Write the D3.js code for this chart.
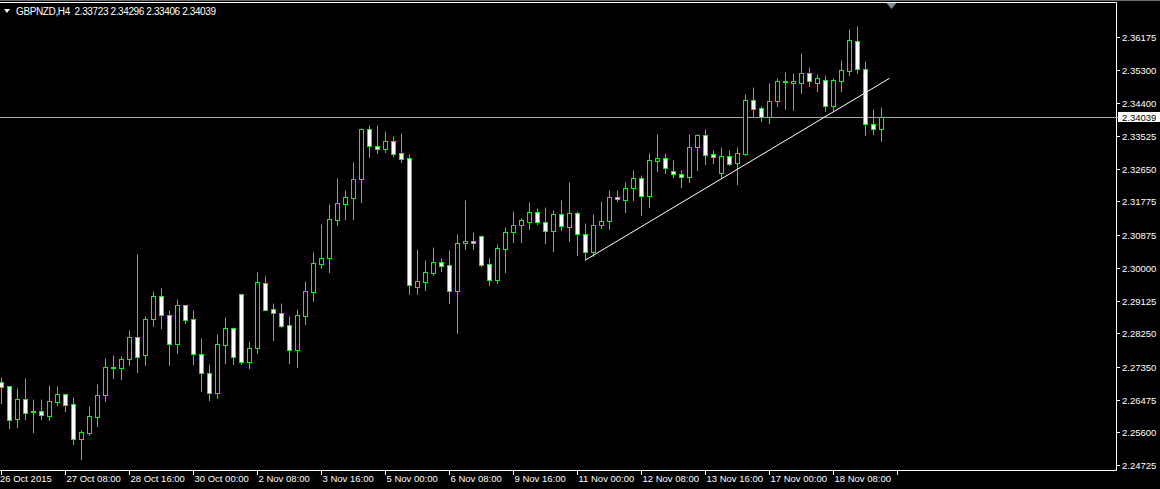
<!DOCTYPE html>
<html><head><meta charset="utf-8">
<script src="https://cdn.jsdelivr.net/npm/d3@7/dist/d3.min.js"></script>
<style>
html,body{margin:0;padding:0;background:#000;overflow:hidden}
svg{display:block}
text{font-family:"Liberation Sans",Arial,sans-serif;fill:#fff;white-space:pre}
</style></head><body>
<svg id="c" width="1160" height="489"></svg>
<script>
const symbol = "GBPNZD,H4";
const opens = [2.26954,2.26839,2.25948,2.26483,2.26170,2.26162,2.26044,2.26419,2.26617,2.26357,
2.25429,2.25589,2.26017,2.26590,2.27320,2.27312,2.27553,2.28141,2.27660,2.28623,
2.29238,2.28730,2.27954,2.28997,2.28623,2.27687,2.27178,2.26659,2.27943,2.28382,
2.29292,2.27489,2.27863,2.29586,2.28890,2.28783,2.28462,2.27810,2.28719,2.29361,
2.30110,2.30271,2.31287,2.31715,2.31876,2.32368,2.33706,2.33259,2.33187,2.33385,
2.33064,2.32930,2.29495,2.29629,2.29870,2.30148,2.30068,2.29372,2.30656,2.30718,
2.30843,2.30094,2.29666,2.30512,2.30950,2.31138,2.31234,2.31485,2.31218,2.30993,
2.31432,2.31100,2.31459,2.30897,2.30415,2.31138,2.31245,2.31887,2.31806,2.32143,
2.32395,2.31929,2.32850,2.32930,2.32582,2.32502,2.32422,2.33224,2.33545,2.33037,
2.32545,2.32983,2.32796,2.33053,2.34482,2.34268,2.34027,2.34455,2.34985,2.34952,
2.34952,2.35204,2.34952,2.35033,2.34321,2.35006,2.35273,2.36060,2.35311,2.33840,
2.33723];
const highs = [2.27087,2.26839,2.26785,2.27053,2.26491,2.26491,2.26865,2.26839,2.26617,2.26544,
2.25661,2.26304,2.26892,2.27588,2.27668,2.27641,2.28337,2.30370,2.28711,2.29380,
2.29460,2.28864,2.29158,2.28997,2.28864,2.28115,2.27419,2.28230,2.28684,2.28417,
2.29292,2.28034,2.29880,2.29773,2.29051,2.29051,2.28711,2.28890,2.29640,2.30423,
2.31172,2.31707,2.32403,2.32082,2.32831,2.33733,2.33821,2.33821,2.33660,2.33527,
2.33607,2.33045,2.30504,2.30209,2.30557,2.30263,2.30477,2.30905,2.31814,2.30958,
2.30843,2.30263,2.30637,2.31092,2.31520,2.31325,2.31761,2.31608,2.31627,2.31547,
2.31814,2.32296,2.31528,2.31199,2.31432,2.31788,2.32082,2.32082,2.32296,2.32617,
2.32483,2.33072,2.33580,2.33064,2.32884,2.32617,2.33580,2.33580,2.33714,2.33152,
2.33224,2.33152,2.33224,2.34650,2.34837,2.34329,2.34944,2.35070,2.35239,2.35212,
2.35747,2.35372,2.35185,2.35150,2.35078,2.35560,2.36389,2.36477,2.35533,2.34249,
2.34296];
const lows = [2.26392,2.25723,2.25750,2.25964,2.25616,2.25956,2.25929,2.26330,2.26170,2.25287,
2.24894,2.25528,2.25768,2.26437,2.27061,2.27026,2.27400,2.27221,2.27400,2.28444,
2.28398,2.27400,2.27729,2.28532,2.27427,2.26713,2.26464,2.26526,2.27462,2.27435,
2.27435,2.27328,2.27729,2.28880,2.28069,2.28425,2.27462,2.27355,2.28497,2.29120,
2.29995,2.29888,2.31146,2.31306,2.31306,2.31769,2.32973,2.33080,2.33099,2.33000,
2.32839,2.29308,2.29308,2.29407,2.29816,2.29923,2.29067,2.28248,2.30495,2.30495,
2.30057,2.29532,2.29602,2.29896,2.30699,2.30699,2.31047,2.31172,2.30672,2.30458,
2.31020,2.30726,2.30351,2.30209,2.30324,2.31073,2.31047,2.31788,2.31501,2.31814,
2.31421,2.31635,2.32598,2.32545,2.32438,2.32170,2.32304,2.32617,2.32778,2.32812,
2.32395,2.32759,2.32242,2.33018,2.34027,2.33936,2.33874,2.34329,2.34249,2.34230,
2.34685,2.34872,2.34738,2.34187,2.34195,2.34738,2.35166,2.35220,2.33553,2.33580,
2.33406];
const closes = [2.26820,2.25929,2.26483,2.26124,2.26143,2.26055,2.26429,2.26625,2.26338,2.25429,
2.25600,2.26028,2.26590,2.27339,2.27339,2.27553,2.28141,2.27622,2.28623,2.29238,
2.28730,2.27954,2.28997,2.28612,2.27687,2.27178,2.26643,2.27954,2.28382,2.27622,
2.27489,2.27847,2.29613,2.28880,2.28783,2.28452,2.27810,2.28730,2.29372,2.30121,
2.30255,2.31298,2.31726,2.31887,2.32368,2.33706,2.33251,2.33187,2.33385,2.33053,
2.32919,2.29532,2.29640,2.29880,2.30148,2.30057,2.29372,2.30656,2.30718,2.30656,
2.30084,2.29666,2.30522,2.30958,2.31146,2.31279,2.31485,2.31218,2.30993,2.31440,
2.31111,2.31459,2.30897,2.30415,2.31138,2.31245,2.31887,2.31833,2.32127,2.32395,
2.31913,2.32876,2.32930,2.32662,2.32502,2.32422,2.33224,2.33545,2.33026,2.32957,
2.32983,2.32785,2.33064,2.34482,2.34257,2.34027,2.34455,2.34990,2.34998,2.35006,
2.35204,2.34990,2.35070,2.34321,2.35017,2.35284,2.36087,2.35311,2.33840,2.33722,
2.34039];
const timeTickBars = [0,8,16,24,32,40,48,56,64,72,80,88,96,104];
const timeTickLabels = ["26 Oct 2015","27 Oct 08:00","28 Oct 16:00","30 Oct 00:00","2 Nov 08:00",
"3 Nov 16:00","5 Nov 00:00","6 Nov 08:00","9 Nov 16:00","11 Nov 00:00","12 Nov 08:00",
"13 Nov 16:00","17 Nov 00:00","18 Nov 08:00"];
const priceTicks = [2.36175,2.35300,2.34400,2.33525,2.32650,2.31775,2.30875,2.30000,
2.29125,2.28250,2.27350,2.26475,2.25600,2.24725];
const trendBars = [73,111];
const trendPrices = [2.30209,2.35070];
const lastPrice = 2.34039;

const W = 1160, H = 489;
const plotRight = 1116, plotTop = 2, plotBottom = 470;
const svg = d3.select("#c");
svg.append("rect").attr("width",W).attr("height",H).attr("fill","#000");

const n = opens.length;
const x = d3.scaleLinear().domain([0, n-1]).range([1.5, 1.5 + 8*(n-1)]);
const y = d3.scaleLinear().domain([priceTicks[priceTicks.length-1], priceTicks[0]]).range([465, 37]);
const py = v => Math.round(y(v)) + 0.5;
const fmt = d3.format(".5f");

svg.append("defs").append("clipPath").attr("id","clip")
  .append("rect").attr("x",0).attr("y",plotTop+1).attr("width",plotRight).attr("height",plotBottom-plotTop-1);

// top window edge
svg.append("line").attr("x1",0).attr("x2",W).attr("y1",0.5).attr("y2",0.5).attr("stroke","#6d6d6d");

const g = svg.append("g").attr("clip-path","url(#clip)");

// current price line
g.append("line").attr("x1",0).attr("x2",plotRight).attr("y1",py(lastPrice)).attr("y2",py(lastPrice))
  .attr("stroke","#a8a8a8").attr("stroke-width",1);

const idx = d3.range(n);
// wicks
g.selectAll("line.wick").data(idx).join("line").attr("class","wick")
  .attr("x1",i=>x(i)).attr("x2",i=>x(i))
  .attr("y1",i=>py(highs[i])).attr("y2",i=>py(lows[i])+0.5)
  .attr("stroke","#00ff00").attr("stroke-width",1);
// bodies
g.selectAll("rect.body").data(idx).join("rect").attr("class","body")
  .attr("x",i=>x(i)-2).attr("width",4)
  .attr("y",i=>Math.min(py(opens[i]),py(closes[i])))
  .attr("height",i=>Math.max(1,Math.abs(py(opens[i])-py(closes[i]))))
  .attr("fill",i=> closes[i] >= opens[i] ? "#000" : "#fff")
  .attr("stroke","#00ff00").attr("stroke-width",1)
  .attr("shape-rendering","crispEdges");

// trendline
g.append("line")
  .attr("x1",x(trendBars[0])).attr("y1",y(trendPrices[0]))
  .attr("x2",x(trendBars[1])).attr("y2",y(trendPrices[1]))
  .attr("stroke","#fff").attr("stroke-width",1);

// frame
svg.append("path")
  .attr("d",`M0,${plotTop+0.5}H${plotRight+0.5}V${plotBottom+0.5}H0`)
  .attr("fill","none").attr("stroke","#fff").attr("stroke-width",1);

// price axis
const pa = svg.append("g");
pa.selectAll("line").data(priceTicks).join("line")
  .attr("x1",plotRight).attr("x2",plotRight+4)
  .attr("y1",d=>py(d)).attr("y2",d=>py(d)).attr("stroke","#fff");
pa.selectAll("text").data(priceTicks).join("text")
  .attr("x",plotRight+6).attr("y",d=>py(d)+3.5)
  .attr("font-size","9.5px").text(d=>fmt(d));

// last price label
const ly = py(lastPrice);
svg.append("rect").attr("x",plotRight+2).attr("y",ly-5.5).attr("width",W-plotRight-2).attr("height",10).attr("fill","#fff");
svg.append("line").attr("x1",plotRight).attr("x2",plotRight+2).attr("y1",ly).attr("y2",ly).attr("stroke","#a8a8a8");
svg.append("text").attr("x",plotRight+6).attr("y",ly+3.5).attr("font-size","9.5px")
  .style("fill","#000").text(fmt(lastPrice));

// time axis
const ta = svg.append("g");
const tickBarsAll = timeTickBars.concat([timeTickBars[timeTickBars.length-1]+8]);
ta.selectAll("line").data(tickBarsAll).join("line")
  .attr("x1",d=>x(d)).attr("x2",d=>x(d)).attr("y1",plotBottom).attr("y2",plotBottom+5).attr("stroke","#fff");
ta.selectAll("text").data(timeTickLabels).join("text")
  .attr("x",(d,i)=> i===0 ? 0 : x(timeTickBars[i])+1).attr("y",plotBottom+12)
  .attr("font-size","9.5px").text(d=>d);

// title
svg.append("path").attr("d","M4,9L10,9L7,13Z").attr("fill","#fff");
svg.append("text").attr("x",16).attr("y",15).attr("font-size","10px")
  .attr("xml:space","preserve")
  .attr("textLength",200).attr("lengthAdjust","spacing")
  .text(`${symbol}  ${fmt(opens[n-1])} ${fmt(highs[n-1])} ${fmt(lows[n-1])} ${fmt(closes[n-1])}`);

// shift marker
const sx = x(n-1) + 10;
svg.append("path").attr("d",`M${sx-5},3L${sx+5},3L${sx},9Z`).attr("fill","#7d8a96");
</script>
</body></html>
